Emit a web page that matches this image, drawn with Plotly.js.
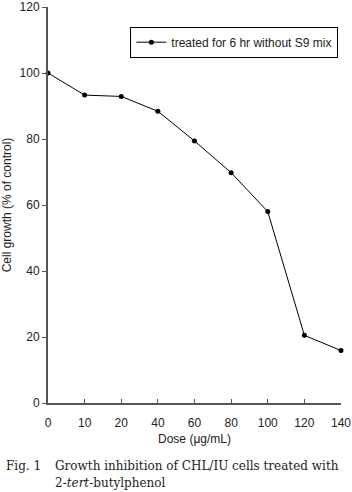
<!DOCTYPE html>
<html>
<head>
<meta charset="utf-8">
<script src="https://cdn.plot.ly/plotly-3.0.1.min.js"></script>
<style>html,body{margin:0;padding:0;background:#fff;}#chart{width:352px;height:492px;}</style>
</head>
<body>
<div id="chart"></div>
<script>
const doseLabels = ["0", "10", "20", "40", "60", "80", "100", "120", "140"];
const cellGrowth = [100, 93.3, 92.9, 88.4, 79.4, 69.8, 58.0, 20.5, 15.9];
const seriesName = "treated for 6 hr without S9 mix";
const yTicks = [0, 20, 40, 60, 80, 100, 120];

const xIdx = doseLabels.map((_, i) => i);
const axisColor = '#555555';
const sans = 'Liberation Sans, Arial, sans-serif';
const serif = 'DejaVu Serif, Liberation Serif, serif';

const trace = {
  x: xIdx,
  y: cellGrowth,
  type: 'scatter',
  mode: 'lines+markers',
  name: seriesName,
  line: {color: '#000', width: 1},
  marker: {color: '#000', size: 5, symbol: 'circle'},
  cliponaxis: false
};

const L = 47.5, W = 293.5, B = 403.3, H = 396.3;
const px = v => (v - L) / W;
const py = v => (B - v) / H;

const layout = {
  width: 352, height: 492,
  margin: {l: 47.5, r: 11, t: 7, b: 88.7},
  paper_bgcolor: '#fff', plot_bgcolor: '#fff',
  font: {family: sans, size: 12, color: '#222'},
  showlegend: true,
  legend: {
    x: px(130), y: py(26.7), xanchor: 'left', yanchor: 'top',
    bordercolor: '#000', borderwidth: 1, bgcolor: '#fff',
    font: {family: sans, size: 12, color: '#222'},
    itemwidth: 30
  },
  xaxis: {
    range: [0, 8],
    tickmode: 'array', tickvals: xIdx, ticktext: doseLabels,
    showline: true, linecolor: axisColor, linewidth: 2,
    ticks: 'inside', ticklen: 4, tickcolor: axisColor, tickwidth: 1,
    ticklabelstandoff: 8,
    showgrid: false, zeroline: false,
    tickfont: {family: sans, size: 12, color: '#222'},
    title: {text: 'Dose (μg/mL)', font: {family: sans, size: 12, color: '#222'}, standoff: 5}
  },
  yaxis: {
    range: [0, 120],
    tickmode: 'array', tickvals: yTicks,
    showline: true, linecolor: axisColor, linewidth: 2,
    ticks: 'outside', ticklen: 4, tickcolor: axisColor, tickwidth: 1,
    showgrid: false, zeroline: false,
    tickfont: {family: sans, size: 12, color: '#222'},
    title: {text: 'Cell growth (% of control)', font: {family: sans, size: 12, color: '#222'}, standoff: 7}
  },
  annotations: [
    {xref: 'paper', yref: 'paper', x: px(3), y: py(466), xanchor: 'left', yanchor: 'middle',
     text: 'Fig. 1', showarrow: false, font: {family: serif, size: 12, color: '#222'}},
    {xref: 'paper', yref: 'paper', x: px(53), y: py(466), xanchor: 'left', yanchor: 'middle',
     text: 'Growth inhibition of CHL/IU cells treated with', showarrow: false, font: {family: serif, size: 12, color: '#222'}},
    {xref: 'paper', yref: 'paper', x: px(53), y: py(483), xanchor: 'left', yanchor: 'middle',
     text: '2-<i>tert</i>-butylphenol', showarrow: false, font: {family: serif, size: 12, color: '#222'}}
  ]
};

Plotly.newPlot('chart', [trace], layout, {displayModeBar: false, staticPlot: true});
</script>
</body>
</html>
